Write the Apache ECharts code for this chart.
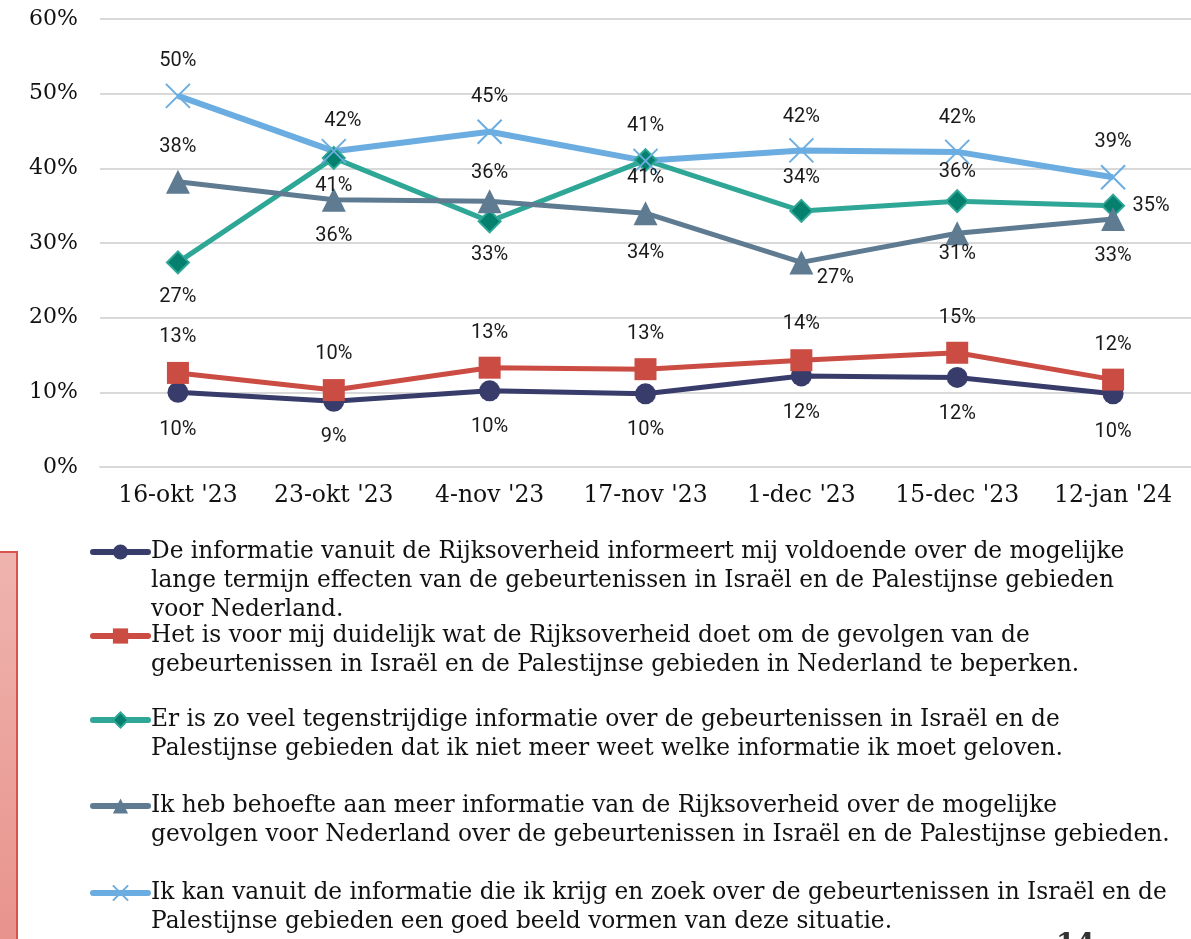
<!DOCTYPE html>
<html>
<head>
<meta charset="utf-8">
<title>Informatie Rijksoverheid</title>
<script src="https://cdn.jsdelivr.net/npm/echarts@6/dist/echarts.min.js"></script>
<style>
  html, body { margin: 0; padding: 0; background: #fff; }
  #main { width: 1191px; height: 939px; }
</style>
</head>
<body>
<div id="main"></div>
<script>
// data
var dates = ["16-okt '23", "23-okt '23", "4-nov '23", "17-nov '23", "1-dec '23", "15-dec '23", "12-jan '24"];
var yTicks = [0, 10, 20, 30, 40, 50, 60];

var namen = [
    'De informatie vanuit de Rijksoverheid informeert mij voldoende over de mogelijke\nlange termijn effecten van de gebeurtenissen in Israël en de Palestijnse gebieden\nvoor Nederland.',
    'Het is voor mij duidelijk wat de Rijksoverheid doet om de gevolgen van de\ngebeurtenissen in Israël en de Palestijnse gebieden in Nederland te beperken.',
    'Er is zo veel tegenstrijdige informatie over de gebeurtenissen in Israël en de\nPalestijnse gebieden dat ik niet meer weet welke informatie ik moet geloven.',
    'Ik heb behoefte aan meer informatie van de Rijksoverheid over de mogelijke\ngevolgen voor Nederland over de gebeurtenissen in Israël en de Palestijnse gebieden.',
    'Ik kan vanuit de informatie die ik krijg en zoek over de gebeurtenissen in Israël en de\nPalestijnse gebieden een goed beeld vormen van deze situatie.'
];

var informeert = [10.0, 8.8, 10.2, 9.8, 12.2, 12.0, 9.8];
var duidelijk  = [12.6, 10.3, 13.3, 13.1, 14.3, 15.3, 11.7];
var tegenstrijdig = [27.4, 41.4, 32.9, 41.1, 34.3, 35.6, 35.0];
var behoefte   = [38.2, 35.8, 35.6, 34.0, 27.4, 31.3, 33.2];
var goedBeeld  = [49.7, 42.3, 44.9, 41.0, 42.4, 42.2, 38.8];

// label offsets ten opzichte van het punt [dx, dy]
var off1 = [[0, 38], [0, 36], [0, 36], [0, 36], [0, 37], [0, 37], [0, 38]];
var off2 = [[0, -36], [0, -36], [0, -35], [0, -35], [0, -36], [0, -35], [0, -35]];
var off3 = [[0, 35], [0, 28], [0, 34], [0, 18], [0, -33], [0, -29], [38, 0]];
var off4 = [[0, -35], [0, 36], [0, -28], [0, 40], [34, 16], [0, 21], [0, 37]];
var off5 = [[0, -35], [9, -30], [0, -35], [0, -35], [0, -33], [0, -34], [0, -35]];

var kleuren = ['#383C6B', '#CB4C43', '#2EA797', '#5E7B91', '#6BADE1'];

var serif = 'DejaVu Serif';
var sans = 'Roboto';

function punten(vals, offs) {
    return vals.map(function (v, i) {
        return {
            value: v,
            label: { position: 'inside', offset: offs[i] }
        };
    });
}

var labelStijl = {
    show: true,
    color: '#1a1a1a',
    fontFamily: sans,
    fontSize: 20,
    formatter: function (p) { return Math.round(p.value) + '%'; }
};

function reeks(idx, vals, offs, symbol, size, extra) {
    var s = {
        name: namen[idx],
        type: 'line',
        data: punten(vals, offs),
        symbol: symbol,
        symbolSize: size,
        showAllSymbol: true,
        lineStyle: { color: kleuren[idx], width: 5 },
        itemStyle: { color: kleuren[idx] },
        label: labelStijl,
        emphasis: { disabled: true },
        animation: false
    };
    if (extra) {
        for (var k in extra) s[k] = extra[k];
    }
    return s;
}

var series = [
    reeks(0, informeert, off1, 'circle', 21),
    reeks(1, duidelijk, off2, 'rect', 22),
    reeks(2, tegenstrijdig, off3, 'diamond', 22, {
        itemStyle: { color: '#05806F', borderColor: '#2EA797', borderWidth: 2 }
    }),
    reeks(3, behoefte, off4, 'triangle', 24),
    reeks(4, goedBeeld, off5, 'path://M0,0L10,10M10,0L0,10', 24, {
        lineStyle: { color: kleuren[4], width: 6 },
        itemStyle: { color: 'none', borderColor: kleuren[4], borderWidth: 2 }
    })
];

// legenda: per item een eigen legend, eerste tekstregel naast het icoon
var legendY = [552, 636, 720, 806, 893];
var regelHoogte = 29;
var legends = namen.map(function (n, i) {
    var regels = n.split('\n').length;
    var leeg = new Array(regels).join('\n');
    return {
        data: [n],
        orient: 'vertical',
        left: 90,
        top: legendY[i] - (2 * regels - 1) * regelHoogte / 2,
        padding: 0,
        itemWidth: 55,
        itemHeight: 19,
        itemGap: 0,
        selectedMode: false,
        lineStyle: { width: 6, cap: 'round' },
        formatter: function (name) { return leeg + name; },
        textStyle: {
            fontFamily: serif,
            fontSize: 23.3,
            color: '#111',
            lineHeight: regelHoogte,
            padding: [0, 0, 0, -2]
        }
    };
});

var myChart = echarts.init(document.getElementById('main'));

var option = {
    backgroundColor: '#ffffff',
    grid: { left: 100, right: 0, top: 19, bottom: 472, containLabel: false },
    legend: legends,
    xAxis: {
        type: 'category',
        data: dates,
        boundaryGap: true,
        axisTick: { show: false },
        axisLine: { lineStyle: { color: '#D9D9D9', width: 2 } },
        axisLabel: { interval: 0, fontFamily: serif, fontSize: 23.5, color: '#111', margin: 17 }
    },
    yAxis: {
        type: 'value',
        min: yTicks[0],
        max: yTicks[yTicks.length - 1],
        interval: 10,
        axisLine: { show: false },
        axisTick: { show: false },
        splitLine: { lineStyle: { color: '#D9D9D9', width: 2 } },
        axisLabel: {
            fontFamily: serif, fontSize: 22, color: '#111', margin: 22,
            formatter: '{value}%'
        }
    },
    series: series,
    graphic: [
        {
            type: 'rect',
            left: -2,
            top: 551,
            shape: { width: 18, height: 400 },
            style: {
                fill: new echarts.graphic.LinearGradient(0, 0, 0, 1, [
                    { offset: 0, color: '#EFB4AF' },
                    { offset: 1, color: '#E8928B' }
                ]),
                stroke: '#D9534F',
                lineWidth: 2
            }
        },
        {
            type: 'text',
            left: 1056,
            top: 932,
            style: { text: '14', font: 'bold 28px DejaVu Serif', fill: '#333' }
        }
    ]
};

myChart.setOption(option);
</script>
</body>
</html>
